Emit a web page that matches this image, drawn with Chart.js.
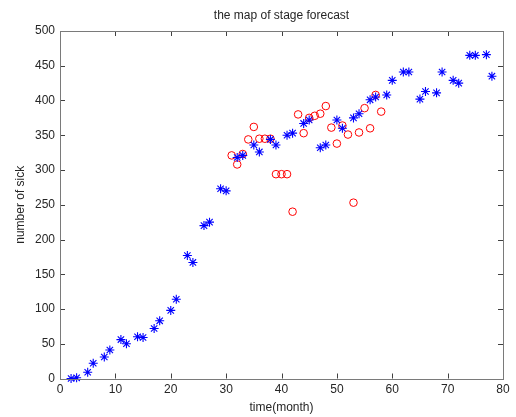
<!DOCTYPE html>
<html>
<head>
<meta charset="utf-8">
<script src="https://cdn.jsdelivr.net/npm/chart.js@4"></script>
<style>
  html, body { margin: 0; padding: 0; background: #fff; }
  #wrap { width: 516px; height: 417px; }
</style>
</head>
<body>
<div id="wrap"><canvas id="stageChart"></canvas></div>
<script>
// actual cases (blue *)
const actualMonths = [2, 3, 5, 6, 8, 9, 11, 12, 14, 15, 17, 18, 20, 21, 23, 24, 26, 27, 29, 30,
    32, 33, 35, 36, 38, 39, 41, 42, 44, 45, 47, 48, 50, 51, 53, 54, 56, 57, 59, 60,
    62, 63, 65, 66, 68, 69, 71, 72, 74, 75, 77, 78];
const actualSick = [0, 1, 9, 22, 31, 41, 56, 50, 60, 59, 72, 83, 98, 114, 177, 167, 220, 225, 273, 270,
    318, 321, 336, 326, 344, 336, 350, 353, 367, 372, 332, 336, 372, 360, 375, 381, 401, 405, 408, 429,
    441, 441, 402, 413, 411, 441, 429, 425, 465, 465, 466, 435];

// stage forecast (red o)
const forecastMonths = [31, 32, 33, 34, 35, 36, 37, 38, 39, 40, 41, 42, 43, 44, 45, 46, 47, 48, 49, 50,
    51, 52, 53, 54, 55, 56, 57, 58];
const forecastSick = [321, 308, 323, 344, 362, 345, 345, 345, 294, 294, 294, 240, 380, 353, 375, 378, 381, 392, 361, 338,
    364, 351, 253, 354, 389, 360, 408, 384];

const xTickStep = 10;
const yTickStep = 50;

const FONT = "'Liberation Sans', Arial, Helvetica, sans-serif";
const TEXT = '#262626';

function toPoints(xs, ys) {
    return xs.map((x, i) => ({ x: x, y: ys[i] }));
}

// matlab style box with ticks pointing inwards
const boxTicks = {
    id: 'boxTicks',
    afterDatasetsDraw(chart) {
        const { ctx, chartArea: a, scales } = chart;
        const len = 5;
        ctx.save();
        ctx.lineWidth = 1;
        ctx.strokeStyle = '#404040';
        ctx.beginPath();
        scales.x.ticks.forEach(t => {
            const px = Math.round(scales.x.getPixelForValue(t.value)) + 0.5;
            if (px <= a.left + 1 || px >= a.right - 1) return;
            ctx.moveTo(px, a.bottom); ctx.lineTo(px, a.bottom - len);
            ctx.moveTo(px, a.top); ctx.lineTo(px, a.top + len);
        });
        scales.y.ticks.forEach(t => {
            const py = Math.round(scales.y.getPixelForValue(t.value)) + 0.5;
            if (py <= a.top + 1 || py >= a.bottom - 1) return;
            ctx.moveTo(a.left, py); ctx.lineTo(a.left + len, py);
            ctx.moveTo(a.right, py); ctx.lineTo(a.right - len, py);
        });
        ctx.stroke();
        ctx.strokeStyle = '#7a7a7a';
        ctx.strokeRect(Math.round(a.left) + 0.5, Math.round(a.top) + 0.5,
            Math.round(a.right - a.left), Math.round(a.bottom - a.top));
        ctx.restore();
    }
};

const ctx = document.getElementById('stageChart').getContext('2d');
const chart = new Chart(ctx, {
    type: 'scatter',
    data: {
        datasets: [
            {
                label: 'actual',
                data: toPoints(actualMonths, actualSick),
                pointStyle: 'star',
                pointRadius: 4.5,
                borderWidth: 1.1,
                borderColor: '#0000ff',
                backgroundColor: '#0000ff',
                clip: false
            },
            {
                label: 'forecast',
                data: toPoints(forecastMonths, forecastSick),
                pointStyle: 'circle',
                pointRadius: 3.8,
                borderWidth: 1,
                borderColor: '#ff0000',
                backgroundColor: 'rgba(0,0,0,0)',
                clip: false
            }
        ]
    },
    options: {
        responsive: true,
        maintainAspectRatio: false,
        animation: false,
        events: [],
        layout: {
            padding: { left: 0, right: 13, top: 0, bottom: 0 }
        },
        scales: {
            x: {
                type: 'linear',
                min: 0,
                max: 80,
                grid: { display: false, drawTicks: false },
                border: { display: false },
                ticks: {
                    stepSize: xTickStep,
                    padding: 4,
                    color: TEXT,
                    font: { family: FONT, size: 12 }
                },
                title: {
                    display: true,
                    text: 'time(month)',
                    color: TEXT,
                    font: { family: FONT, size: 12 },
                    padding: { top: 0, bottom: 2 }
                },
                afterFit(scale) { scale.height = 38.5; }
            },
            y: {
                type: 'linear',
                min: 0,
                max: 500,
                grid: { display: false, drawTicks: false },
                border: { display: false },
                ticks: {
                    stepSize: yTickStep,
                    padding: 5,
                    color: TEXT,
                    font: { family: FONT, size: 12 }
                },
                title: {
                    display: true,
                    text: 'number of sick',
                    color: TEXT,
                    font: { family: FONT, size: 12 },
                    padding: { top: 13, bottom: 0 }
                },
                afterFit(scale) { scale.width = 60; }
            }
        },
        plugins: {
            legend: { display: false },
            tooltip: { enabled: false },
            title: {
                display: true,
                text: 'the map of stage forecast',
                fullSize: false,
                color: TEXT,
                font: { family: FONT, size: 12, weight: 'normal' },
                padding: { top: 8, bottom: 8.6 }
            }
        }
    },
    plugins: [boxTicks]
});
</script>
</body>
</html>
